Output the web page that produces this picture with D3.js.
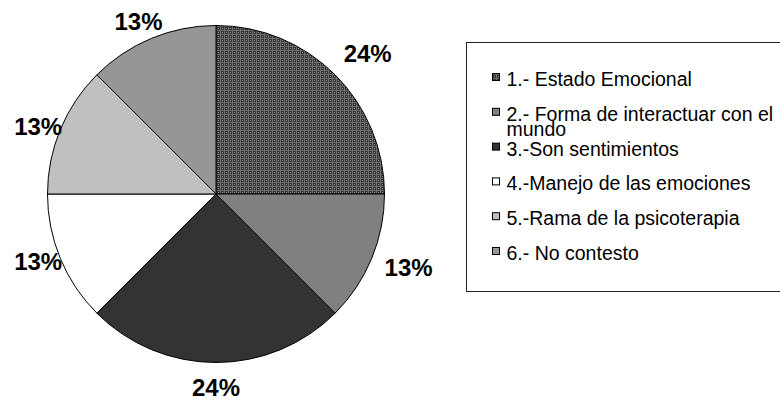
<!DOCTYPE html>
<html>
<head>
<meta charset="utf-8">
<script src="https://cdn.jsdelivr.net/npm/d3@7"></script>
<style>
  html, body { margin: 0; padding: 0; background: #fff; }
  svg { display: block; font-family: "Liberation Sans", Arial, sans-serif; }
</style>
</head>
<body>
<div id="chart"></div>
<script>
const categories = [
  "1.- Estado Emocional",
  "2.- Forma de interactuar con el mundo",
  "3.-Son sentimientos",
  "4.-Manejo de las emociones",
  "5.-Rama de la psicoterapia",
  "6.- No contesto"
];
const values = [2, 1, 2, 1, 1, 1];
const pctLabels = ["24%", "13%", "24%", "13%", "13%", "13%"];

const fills = ["url(#grid)", "#808080", "#333333", "#ffffff", "#c0c0c0", "#969696"];
// extra distance of each label from the rim (Excel places them unevenly)
const labelGap = [22, 16, 16, 0, 0, 10];

const width = 780, height = 400;
const cx = 216, cy = 194, r = 168.5;

const svg = d3.select("#chart").append("svg")
  .attr("width", width)
  .attr("height", height);

// checkered fill of the first slice
const pat = svg.append("defs").append("pattern")
  .attr("id", "grid")
  .attr("patternUnits", "userSpaceOnUse")
  .attr("width", 4)
  .attr("height", 4);
pat.append("rect").attr("width", 4).attr("height", 4).attr("fill", "#333333");
pat.append("rect").attr("width", 4).attr("height", 1).attr("fill", "#6f6f6f");
pat.append("rect").attr("width", 1).attr("height", 4).attr("fill", "#6f6f6f");
pat.append("rect").attr("x", 2).attr("y", 2).attr("width", 1).attr("height", 1).attr("fill", "#9a9a9a");

const pie = d3.pie().sort(null).value(d => d);
const arcs = pie(values);
const arc = d3.arc().innerRadius(0).outerRadius(r);

const g = svg.append("g").attr("transform", "translate(" + cx + "," + cy + ")");

g.selectAll("path")
  .data(arcs)
  .enter()
  .append("path")
  .attr("d", arc)
  .attr("fill", (d, i) => fills[i])
  .attr("stroke", "#000")
  .attr("stroke-width", 1);

// percentage labels, pushed out so the text box sits just outside the pie
const hw = 24, hh = 8.5;
g.selectAll("text.pct")
  .data(arcs)
  .enter()
  .append("text")
  .attr("class", "pct")
  .attr("x", (d, i) => {
    const a = (d.startAngle + d.endAngle) / 2;
    return (r + labelGap[i] + hw) * Math.sin(a);
  })
  .attr("y", (d, i) => {
    const a = (d.startAngle + d.endAngle) / 2;
    return -(r + labelGap[i]) * Math.cos(a) - hh * Math.cos(a) + hh;
  })
  .attr("text-anchor", "middle")
  .attr("font-size", "24px")
  .attr("font-weight", "bold")
  .attr("fill", "#000")
  .text((d, i) => pctLabels[i]);

// legend
svg.append("rect")
  .attr("x", 466.5)
  .attr("y", 42.5)
  .attr("width", 330)
  .attr("height", 249)
  .attr("fill", "none")
  .attr("stroke", "#222")
  .attr("stroke-width", 1);

const ly = d3.scalePoint().domain(categories).range([86, 260]);

const items = svg.append("g").selectAll("g")
  .data(categories)
  .enter()
  .append("g")
  .attr("transform", d => "translate(0," + ly(d) + ")");

items.append("rect")
  .attr("x", 492.5)
  .attr("y", -12.5)
  .attr("width", 7)
  .attr("height", 7)
  .attr("fill", (d, i) => fills[i])
  .attr("stroke", "#000")
  .attr("stroke-width", 1);

items.append("text")
  .attr("x", 506.5)
  .attr("y", 0)
  .attr("font-size", "19.5px")
  .attr("fill", "#000")
  .each(function (d) {
    // wrap long names the way the legend does
    const t = d3.select(this);
    const words = d.split(" ");
    let line = [];
    let tspan = t.append("tspan").attr("x", 506.5).attr("dy", 0);
    for (const w of words) {
      line.push(w);
      tspan.text(line.join(" "));
      if (tspan.node().getComputedTextLength() > 276 && line.length > 1) {
        line.pop();
        tspan.text(line.join(" "));
        line = [w];
        tspan = t.append("tspan").attr("x", 506.5).attr("dy", 15.5).text(w);
      }
    }
  });
</script>
</body>
</html>
